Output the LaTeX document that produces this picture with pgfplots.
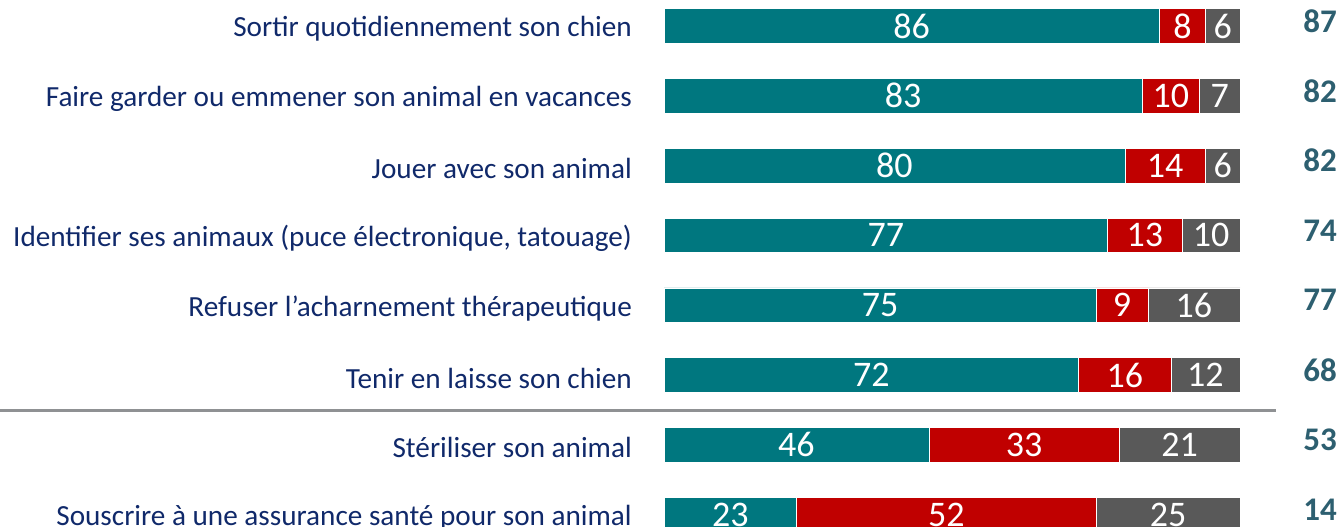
\documentclass[border=0pt]{standalone}
\usepackage{fontspec}
\setmainfont{Carlito}
\usepackage{pgfplots}
\usepackage{pgfplotstable}
\pgfplotsset{compat=1.18}
\definecolor{cteal}{HTML}{00777F}
\definecolor{cred}{HTML}{C00000}
\definecolor{cgray}{HTML}{595959}
\definecolor{cnavy}{HTML}{10296A}
\definecolor{cnum}{HTML}{2D5F70}
\definecolor{cline}{HTML}{8F9193}
\newcommand\labfont{\fontsize{29.2}{34}\selectfont}
\newcommand\barfont{\fontsize{36}{40}\selectfont}
\newcommand\numfont{\bfseries\fontsize{33}{36}\selectfont}
% values and the centres of their segments
\pgfplotstableread{
i a b c r ma mb mc rx
0 86 8 6 87 43 90 97 113.9
1 83 10 7 82 41.5 88 96.5 113.9
2 80 14 6 82 40 87 97 113.9
3 77 13 10 74 38.5 83.5 95 113.9
4 75 9 16 77 37.5 79.5 92 113.9
5 72 16 12 68 36 80 94 113.9
6 46 33 21 53 23 62.5 89.5 113.9
7 23 52 25 14 11.5 49 87.5 113.9
}\data
\pgfplotsset{
  geom/.style={at={(664pt,0pt)}, anchor=south west,
    scale only axis, width=576pt, height=527pt,
    xmin=0, xmax=100, ymin=-0.3725, ymax=7.178, y dir=reverse, clip=false},
}
\begin{document}
\begin{tikzpicture}
\path[use as bounding box] (0,0) rectangle (1341pt,527pt);
\draw[line width=3pt, cline] (0pt,116pt) -- (1276pt,116pt);
\begin{axis}[geom,
  xbar stacked, bar width=34.5pt,
  axis line style={draw=none}, tick style={draw=none}, major tick length=0pt,
  xtick=\empty, ytick={0,1,2,3,4,5,6,7},
  yticklabels={Sortir quotidiennement son chien, Faire garder ou emmener son animal en vacances, Jouer avec son animal, {Identifier ses animaux (puce électronique, tatouage)}, Refuser l’acharnement thérapeutique, Tenir en laisse son chien, Stériliser son animal, Souscrire à une assurance santé pour son animal},
  yticklabel style={font=\labfont, text=cnavy, anchor=east, inner sep=0pt, xshift=-32pt, yshift=-3pt},
]
\addplot[fill=cteal, draw=white, line width=0.6pt] table[x=a, y=i] {\data};
\addplot[fill=cred, draw=white, line width=0.6pt] table[x=b, y=i] {\data};
\addplot[fill=cgray, draw=white, line width=0.6pt] table[x=c, y=i] {\data};
\end{axis}
\begin{axis}[geom, hide axis,
  nodes near coords={\pgfplotspointmeta}, point meta=explicit symbolic,
  nodes near coords align=center,
]
\addplot[only marks, mark=none, every node near coord/.style={anchor=center, font=\barfont, text=white}]
  table[x=ma, y=i, meta=a] {\data};
\addplot[only marks, mark=none, every node near coord/.style={anchor=center, font=\barfont, text=white}]
  table[x=mb, y=i, meta=b] {\data};
\addplot[only marks, mark=none, every node near coord/.style={anchor=center, font=\barfont, text=white}]
  table[x=mc, y=i, meta=c] {\data};
\addplot[only marks, mark=none, every node near coord/.style={anchor=center, yshift=5pt, font=\numfont, text=cnum}]
  table[x=rx, y=i, meta=r] {\data};
\end{axis}
\end{tikzpicture}
\end{document}
